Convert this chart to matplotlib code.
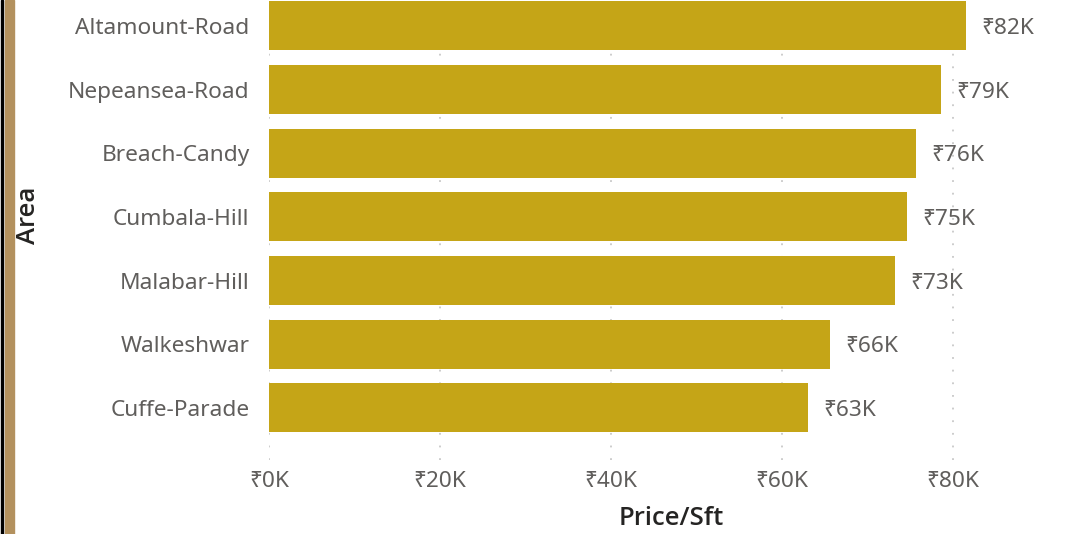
import matplotlib
matplotlib.use("Agg")
import matplotlib.pyplot as plt
from matplotlib.patches import Rectangle
from matplotlib.ticker import FuncFormatter

areas = ["Altamount-Road", "Nepeansea-Road", "Breach-Candy", "Cumbala-Hill",
         "Malabar-Hill", "Walkeshwar", "Cuffe-Parade"]
price_k = [81.6, 78.6, 75.7, 74.7, 73.3, 65.6, 63.1]
xticks_k = [0, 20, 40, 60, 80]

plt.rcParams['font.family'] = ['Noto Sans', 'DejaVu Sans']

W, H = 1066, 534
fig = plt.figure(figsize=(W / 100, H / 100), dpi=100)
ax = fig.add_axes([269 / W, 74 / H, (1038 - 269) / W, 460 / H])

n = len(areas)
ypos = list(range(n - 1, -1, -1))
bar_color = "#C5A517"
ax.barh(ypos, price_k, height=0.77, color=bar_color, zorder=2)

lab_color = "#605E5C"
fs = 16.3
for y, v in zip(ypos, price_k):
    ax.annotate(f"₹{round(v):.0f}K", xy=(v, y), xytext=(11, 0), textcoords="offset points",
                va="center_baseline", ha="left", fontsize=fs, color=lab_color)

ax.set_xlim(0, 90)
ax.set_ylim(-0.817, 6.408)
ax.set_yticks(ypos)
ax.set_yticklabels(areas, fontsize=fs, color=lab_color)
ax.set_xticks(xticks_k)
ax.xaxis.set_major_formatter(FuncFormatter(lambda v, p: f"₹{v:.0f}K"))
ax.tick_params(axis="x", labelsize=fs, labelcolor=lab_color, length=0, pad=8)
ax.tick_params(axis="y", length=0, pad=14)
for s in ax.spines.values():
    s.set_visible(False)
ax.grid(axis="x", color="#C8C8C8", linestyle=(0, (1, 6)), linewidth=1.3, zorder=0)
ax.set_axisbelow(True)

title_font = dict(family=["Open Sans", "Lato", "DejaVu Sans"], fontsize=18.5,
                  color="#252423", fontweight="semibold")
ax.set_xlabel("Price/Sft", **title_font)
ax.xaxis.set_label_coords((671 - 269) / (1038 - 269), -(506 - 460) / 460)
ax.set_ylabel("Area", **title_font)
ax.yaxis.set_label_coords(-(269 - 41) / (1038 - 269), (534 - 215 - 74) / 460)

fig.add_artist(Rectangle((1 / W, 0), 2 / W, 1, transform=fig.transFigure, color="black", zorder=5))
fig.add_artist(Rectangle((5 / W, 0), 9 / W, 1, transform=fig.transFigure, color="#B3915E", zorder=5))

fig.savefig("out.png", dpi=100)
